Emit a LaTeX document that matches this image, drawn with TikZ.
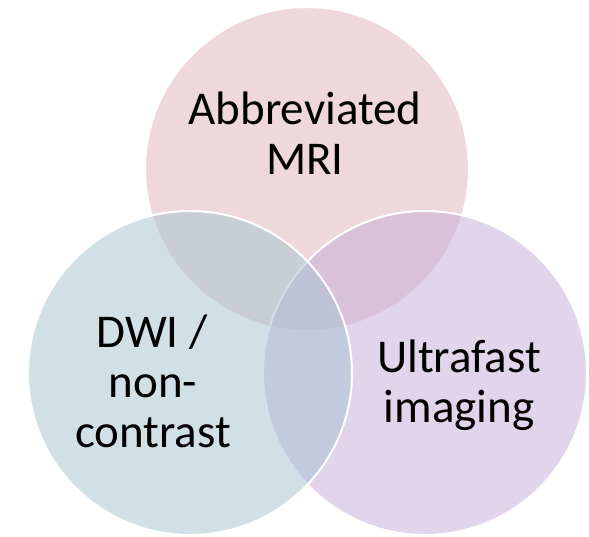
\documentclass[tikz,border=0pt]{standalone}
\usepackage{fontspec}
\setmainfont{Carlito}
\definecolor{cpink}{RGB}{225,179,185}
\definecolor{cblue}{RGB}{165,195,209}
\definecolor{cpurple}{RGB}{197,171,217}
\tikzset{
  venn/.style={draw=white, line width=2pt, fill opacity=0.5, draw opacity=1},
  lbl/.style={anchor=base, inner sep=0pt, font=\fontsize{47}{52}\selectfont, text=black}
}
\begin{document}
\begin{tikzpicture}[x=1pt,y=-1pt]
\useasboundingbox (0,0) rectangle (589,536);
\fill[white] (0,0) rectangle (589,536);
\path[venn, fill=cpink] (307,169) circle[radius=162];
\path[venn, fill=cpurple] (425,373) circle[radius=162];
\path[venn, fill=cblue] (190,373) circle[radius=162];
\node[lbl] (a1) at (305,124) {Abbreviated};
\node[lbl] (a2) at (305,174) {MRI};
\node[lbl] (d1) at (152,347) {DWI /};
\node[lbl] (d2) at (153,397) {non-};
\node[lbl] (d3) at (153,447) {contrast};
\node[lbl] (u1) at (459,372) {Ultrafast};
\node[lbl] (u2) at (459,422) {imaging};
\end{tikzpicture}
\end{document}
